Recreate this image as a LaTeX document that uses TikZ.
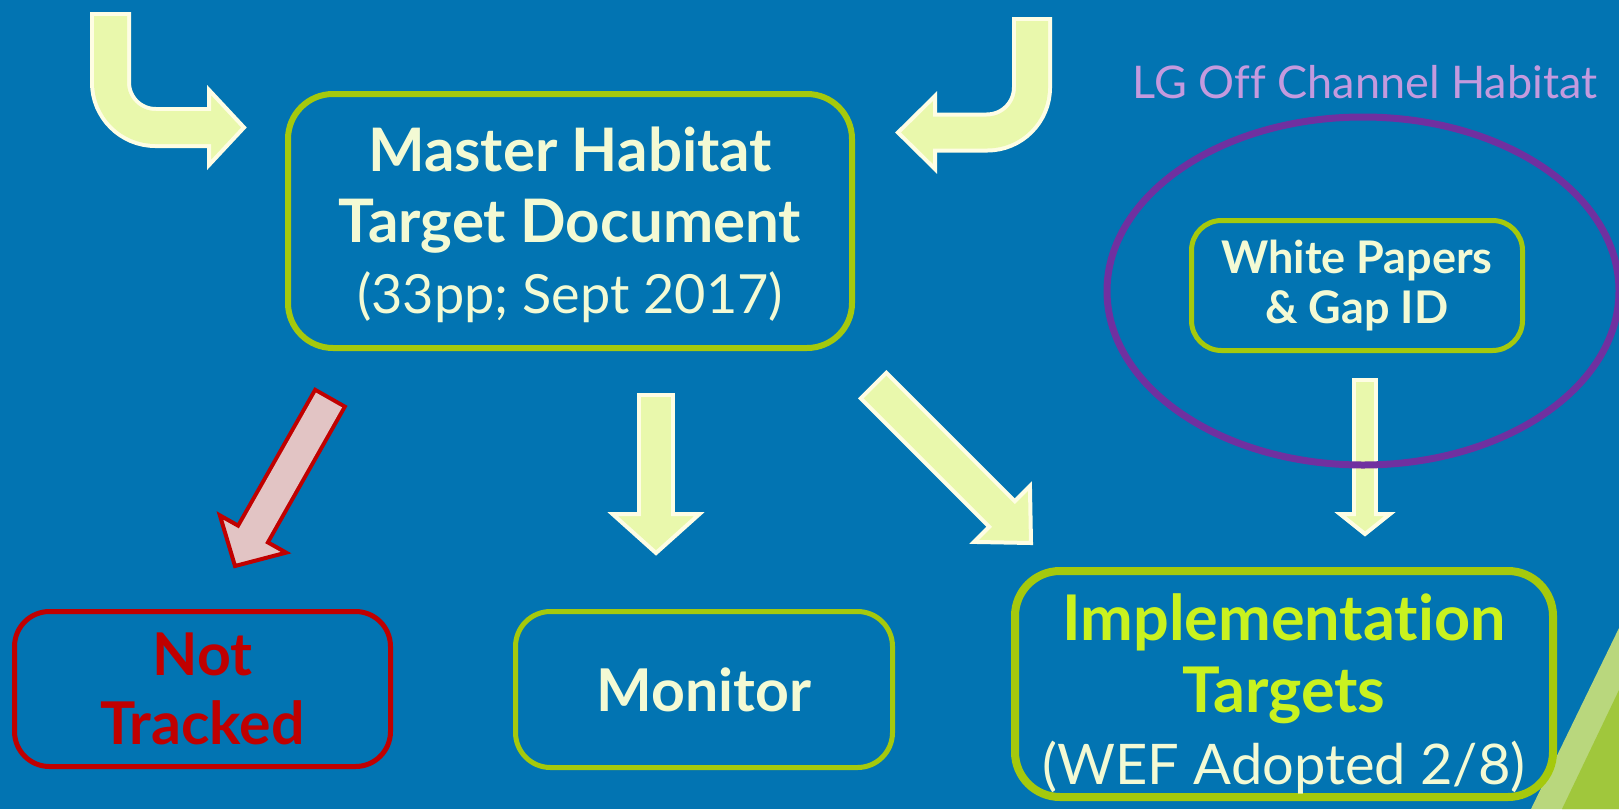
\documentclass[tikz,border=0pt]{standalone}
\usepackage{fontspec}
\setmainfont{Lato}[Ligatures=NoCommon]
\usetikzlibrary{calc,shapes.geometric}

\definecolor{slide blue}{RGB}{2,116,178}
\definecolor{box edge}{RGB}{165,201,12}
\definecolor{box text}{RGB}{243,250,212}
\definecolor{arrow fill}{RGB}{233,248,172}
\definecolor{arrow edge}{RGB}{254,253,228}
\definecolor{stop red}{RGB}{192,0,0}
\definecolor{stop fill}{RGB}{226,196,196}
\definecolor{target green}{RGB}{201,242,31}
\definecolor{ring purple}{RGB}{112,48,160}
\definecolor{ring label}{RGB}{196,154,222}
\definecolor{leaf light}{RGB}{185,215,125}
\definecolor{leaf dark}{RGB}{160,199,60}

\tikzset{box/.style={draw=box edge, line width=6pt, rounded corners=45pt, align=center, text=box text, inner sep=0pt},
	shaft outer/.style={draw=arrow edge, rounded corners=45pt, shorten <=-4pt},
	shaft inner/.style={draw=arrow fill, rounded corners=45pt, shorten >=-5pt},
	head/.style={fill=arrow fill, draw=arrow edge, line width=4pt}}

% #1 shaft width, #2 half head width, #3 shaft path, #4 head base, #5 tip
\newcommand{\fatarrow}[5]{%
	\draw[shaft outer, line width=#1+8pt] #3;
	\draw[head] ($(#4)!#2!90:(#5)$) -- (#5) -- ($(#4)!#2!-90:(#5)$) -- cycle;
	\draw[shaft inner, line width=#1] #3;
}

\begin{document}
\begin{tikzpicture}[x=1pt,y=-1pt]
		\useasboundingbox (0,0) rectangle (1619,809);
		\fill[slide blue] (0,0) rectangle (1619,809);
		\fill[leaf light] (1619,628) -- (1619,809) -- (1531,809) -- cycle;
		\fill[leaf dark] (1619,690) -- (1619,809) -- (1562,809) -- cycle;
		
		\node[box, minimum width=564pt, minimum height=254pt, font=\fontsize{60}{71}\selectfont\bfseries] (master) at (570,221) {\rule{0pt}{53pt}Master Habitat\\Target Document\\{\fontsize{54}{71}\selectfont\mdseries (33pp; Sept 2017)}};
		\node[box, line width=5pt, rounded corners=30pt, minimum width=331pt, minimum height=130pt, font=\fontsize{45}{50}\selectfont\bfseries] (papers) at (1357,285.5) {White Papers\\\& Gap ID};
		\node[box, draw=stop red, text=stop red, line width=5pt, rounded corners=35pt, minimum width=376pt, minimum height=155pt, font=\fontsize{59}{69}\selectfont\bfseries] (nottracked) at (202.5,689) {Not\\Tracked};
		\node[box, line width=5pt, rounded corners=35pt, minimum width=377pt, minimum height=156pt, font=\fontsize{59}{69}\selectfont\bfseries] (monitor) at (704,689.5) {Monitor};
		\node[box, fill=slide blue, line width=8pt, rounded corners=45pt, minimum width=538pt, minimum height=226pt, font=\fontsize{63}{72}\selectfont] (targets) at (1284,684) {\rule{0pt}{66pt}\textcolor{target green}{\bfseries Implementation}\\\textcolor{target green}{\bfseries Targets}\\{\fontsize{56}{72}\selectfont (WEF Adopted 2/8)}};
		
		\coordinate (inleft) at (110.5,16);
		\coordinate (inleftbase) at (209,127.5);
		\coordinate (inlefttip) at (244,127.5);
		\coordinate (inright) at (1032,21);
		\coordinate (inrightbase) at (935,132.5);
		\coordinate (inrighttip) at (898,132.5);
		\coordinate (droptail) at (329,400);
		\coordinate (dropbase) at (253,534);
		\coordinate (droptip) at (235,566);
		\coordinate (monitortail) at (656,397);
		\coordinate (monitorbase) at (656,514);
		\coordinate (monitortip) at (656,553);
		\coordinate (targetstail) at (875,387);
		\coordinate (targetsbase) at (1002,514);
		\coordinate (targetstip) at (1031,543);
		\coordinate (paperstail) at (1365,382);
		\coordinate (papersbase) at (1365,514);
		\coordinate (paperstip) at (1365,534);
		
		\fatarrow{33pt}{37.5pt}{(inleft) |- (inleftbase)}{inleftbase}{inlefttip}
		\fatarrow{32pt}{36.5pt}{(inright) |- (inrightbase)}{inrightbase}{inrighttip}
		\begin{scope}
			\colorlet{arrow fill}{stop fill}
			\colorlet{arrow edge}{stop red}
			\fatarrow{30pt}{38pt}{(droptail) -- (dropbase)}{dropbase}{droptip}
		\end{scope}
		\fatarrow{30pt}{43.5pt}{(monitortail) -- (monitorbase)}{monitorbase}{monitortip}
		\fatarrow{32pt}{39.5pt}{(targetstail) -- (targetsbase)}{targetsbase}{targetstip}
		\fatarrow{18pt}{25pt}{(paperstail) -- (papersbase)}{papersbase}{paperstip}
		
		\node[ellipse, draw=ring purple, line width=7pt, minimum width=512pt, minimum height=348pt, inner sep=0pt] (habitat) at (1363,291) {};
		\node[text=ring label, font=\fontsize{45}{55}\selectfont, anchor=base] (habitatlabel) at (1365,98) {LG Off Channel Habitat};
		\end{tikzpicture}
\end{document}
